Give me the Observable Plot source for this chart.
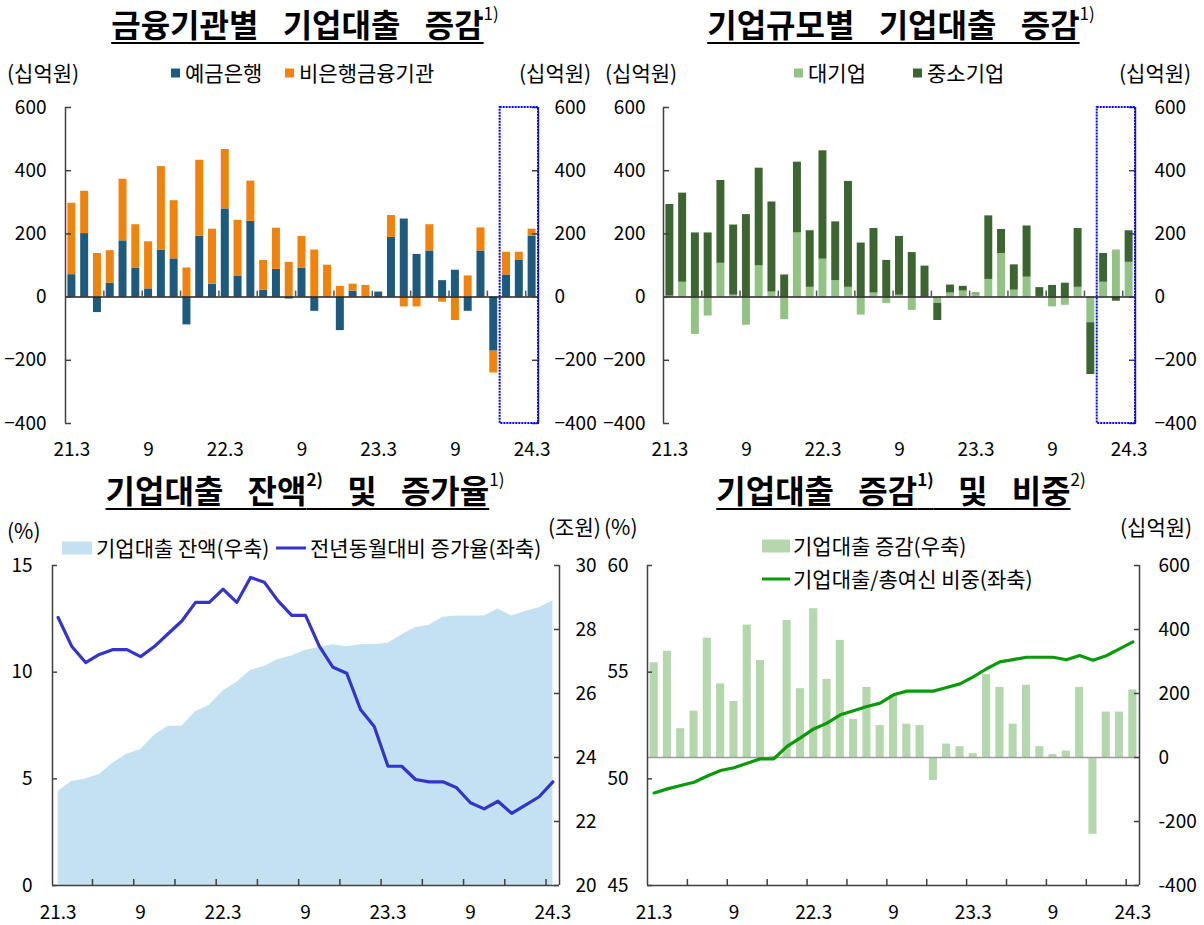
<!DOCTYPE html>
<html><head><meta charset="utf-8">
<script src="https://cdn.jsdelivr.net/npm/d3@7"></script>
<script src="https://cdn.jsdelivr.net/npm/@observablehq/plot@0.6"></script>
<style>
body{margin:0;background:#fff;font-family:"Noto Sans CJK KR","Noto Sans",sans-serif;color:#000;}
#root{position:relative;width:1204px;height:925px;overflow:hidden;background:#fff;}
.abs{position:absolute;white-space:nowrap;line-height:1;}
.title{font-size:32px;font-weight:bold;transform:translate(-50%,-50%);}
.title .main{text-decoration:underline;text-decoration-thickness:2px;text-underline-offset:5px;word-spacing:17px;}
.title sup{font-size:17px;vertical-align:top;position:relative;top:-3px;line-height:1;}
.title sup.n{font-weight:normal;}
.lbl{font-size:21px;transform:translateY(-50%);}
.sw{display:inline-block;vertical-align:middle;margin-right:5px;position:relative;top:-2px;}
svg{position:absolute;}
</style></head><body><div id="root"></div>
<script>
// ---------- DATA ----------
const months = ["21.3","21.4","21.5","21.6","21.7","21.8","21.9","21.10","21.11","21.12",
  "22.1","22.2","22.3","22.4","22.5","22.6","22.7","22.8","22.9","22.10","22.11","22.12",
  "23.1","23.2","23.3","23.4","23.5","23.6","23.7","23.8","23.9","23.10","23.11","23.12",
  "24.1","24.2","24.3"];
// 금융기관별 (십억원)
const bank    = [71,201,-49,44,178,92,26,149,121,-88,193,41,279,67,240,22,88,-6,92,-45,0,-106,19,0,16,189,247,135,146,52,85,-45,146,-171,70,116,193];
const nonbank = [226,134,138,103,195,137,149,264,184,92,240,174,188,176,127,94,130,110,100,149,101,34,22,37,-2,69,-31,-31,83,-16,-74,67,73,-69,72,26,22];
// 기업규모별 (십억원)
const large = [3,47,-118,-60,107,6,-89,99,16,-71,203,31,120,52,31,-57,13,-20,6,-42,0,-20,13,19,10,56,138,22,63,2,-31,-26,31,-81,47,149,110];
const sme   = [290,282,203,203,262,222,261,309,285,70,224,179,343,186,335,171,204,116,186,141,98,-54,25,15,3,201,76,80,162,28,37,44,186,-164,91,-13,100];
// 기업대출 잔액 (조원, 우축) 및 증가율 (%, 좌축)
const balance = [22.94,23.25,23.33,23.48,23.83,24.1,24.25,24.69,24.98,24.98,25.43,25.63,26.08,26.35,26.72,26.84,27.06,27.17,27.35,27.44,27.52,27.46,27.52,27.53,27.57,27.83,28.06,28.13,28.38,28.42,28.42,28.42,28.64,28.42,28.56,28.68,28.9];
const growth  = [12.56,11.2,10.45,10.83,11.06,11.06,10.73,11.2,11.8,12.4,13.27,13.27,13.89,13.27,14.44,14.22,13.34,12.66,12.66,11.22,10.23,9.95,8.25,7.45,5.59,5.59,4.97,4.86,4.86,4.58,3.88,3.59,3.95,3.38,3.77,4.16,4.86];
// 기업대출 증감 (십억원, 우축) 및 기업대출/총여신 비중 (%, 좌축)
const corpChange = [296,332,90,145,373,230,175,414,303,4,428,215,465,244,366,119,219,100,194,104,100,-72,42,34,12,259,219,104,226,34,9,20,219,-240,142,142,211];
const share = [49.34,49.53,49.69,49.84,50.13,50.39,50.52,50.73,50.94,50.94,51.52,51.92,52.34,52.61,53.0,53.19,53.39,53.55,53.94,54.11,54.11,54.11,54.28,54.45,54.78,55.16,55.48,55.59,55.70,55.70,55.70,55.58,55.78,55.56,55.77,56.09,56.42];
// tick labels
const labelMonths = ["21.3","21.9","22.3","22.9","23.3","23.9","24.3"];
const labelText   = ["21.3","9","22.3","9","23.3","9","24.3"];
const barTicks = [-400,-200,0,200,400,600];
const p3LeftTicks = [0,5,10,15];
const p3RightTicks = [20,22,24,26,28,30];
const p4LeftTicks = [45,50,55,60];
const p4RightTicks = [-400,-200,0,200,400,600];
const highlightMonths = ["24.1","24.2","24.3"];

// ---------- HELPERS ----------
const FONT = '"Noto Sans CJK KR","Noto Sans",sans-serif';
const root = document.getElementById("root");
const AX = "#404040";
const labelIdx = labelMonths.map(m => months.indexOf(m));
const tickPos = months.map((m,i)=>[m,i]).filter(([m,i]) => i>0 && [3,6,9,12].includes(+m.split(".")[1])).map(([m,i]) => i-0.5);
const fmtIdx = i => labelText[labelIdx.indexOf(i)];

function addHTML(x, y, content, cls, extra) {
  const d = document.createElement("div");
  d.className = "abs " + cls;
  d.style.left = x + "px"; d.style.top = y + "px";
  d.innerHTML = content;
  if (extra) Object.assign(d.style, extra);
  root.appendChild(d);
  return d;
}
function placeSVG(svg, left, top) {
  svg.style.left = left + "px"; svg.style.top = top + "px";
  root.appendChild(svg);
}
const style = {fontFamily: FONT, fontSize: "19px", color: "#000", background: "transparent", overflow: "visible"};

function stackedPanel({s1, s2, names, colors, W, H, ml, mr, mt, mb, padL, padR}) {
  const data = [];
  months.forEach((m, i) => {
    data.push({i, m, s: names[0], v: s1[i]});
    data.push({i, m, s: names[1], v: s2[i]});
  });
  const yDom = [-400, 600];
  const xDom = [-0.5, months.length - 0.5];
  const tlY = 6 * (yDom[1]-yDom[0]) / (H - mt - mb);
  const tlX = 6 * (xDom[1]-xDom[0]) / (W - ml - mr);
  const hi = [{x1: months.indexOf(highlightMonths[0]) - 0.5, x2: months.indexOf(highlightMonths[highlightMonths.length-1]) + 0.5, y1: yDom[0], y2: yDom[1]}];
  return Plot.plot({
    width: W, height: H, marginLeft: ml, marginRight: mr, marginTop: mt, marginBottom: mb,
    style,
    x: {type: "linear", domain: xDom},
    y: {domain: yDom},
    color: {domain: names, range: colors},
    marks: [
      Plot.rectY(data, {x1: d => d.i - 0.5, x2: d => d.i + 0.5, y: "v", fill: "s", insetLeft: 2.4, insetRight: 2.4}),
      Plot.ruleY([0], {stroke: "#222", strokeWidth: 1.5}),
      Plot.ruleX(xDom, {stroke: AX, strokeWidth: 1.5}),
      Plot.ruleY(barTicks, {x1: xDom[0], x2: xDom[0] + tlX, stroke: AX, strokeWidth: 1.5}),
      Plot.ruleY(barTicks, {x1: xDom[1] - tlX, x2: xDom[1], stroke: AX, strokeWidth: 1.5}),
      Plot.ruleX(tickPos, {y1: 0, y2: tlY, stroke: "#555", strokeWidth: 1.5}),
      Plot.axisY(barTicks, {anchor: "left", tickSize: 0, tickPadding: padL, label: null}),
      Plot.axisY(barTicks, {anchor: "right", tickSize: 0, tickPadding: padR, label: null}),
      Plot.axisX(labelIdx, {anchor: "bottom", tickSize: 0, tickPadding: 19, tickFormat: fmtIdx, label: null}),
      Plot.rect(hi, {x1: "x1", x2: "x2", y1: "y1", y2: "y2", fill: "none", stroke: "#0000ff", strokeWidth: 2, strokeDasharray: "2,1"})
    ]
  });
}

// ---------- PANEL 1 ----------
placeSVG(stackedPanel({s1: bank, s2: nonbank, names: ["예금은행","비은행금융기관"], colors: ["#1e5a7e","#f0820e"],
  W: 600, H: 375, ml: 65, mr: 62, mt: 12, mb: 47, padL: 19, padR: 16}), 0, 95);
// ---------- PANEL 2 ----------
placeSVG(stackedPanel({s1: large, s2: sme, names: ["대기업","중소기업"], colors: ["#92c384","#3d6531"],
  W: 604, H: 375, ml: 63, mr: 69, mt: 12, mb: 47, padL: 18, padR: 19}), 600, 95);

// ---------- PANEL 3 ----------
{
  const W = 600, H = 370, ml = 52, mr = 41, mt = 10, mb = 40;
  const yDom = [0, 15];
  const xDom = [-0.41, 36.48];
  const toLeft = v => (v - 20) * 1.5;          // 조원 -> % axis units
  const fromLeft = d => Math.round(d / 1.5 + 20);
  const data = months.map((m, i) => ({i, m, bal: balance[i], g: growth[i]}));
  const tlY = 6 * (yDom[1]-yDom[0]) / (H - mt - mb);
  const tlX = 5 * (xDom[1]-xDom[0]) / (W - ml - mr);
  const rightT = p3RightTicks.map(toLeft);
  placeSVG(Plot.plot({
    width: W, height: H, marginLeft: ml, marginRight: mr, marginTop: mt, marginBottom: mb,
    style, x: {type: "linear", domain: xDom}, y: {domain: yDom},
    marks: [
      Plot.areaY(data, {x: "i", y1: 0, y2: d => toLeft(d.bal), fill: "#c4e1f1"}),
      Plot.lineY(data, {x: "i", y: "g", stroke: "#3434c8", strokeWidth: 3.2}),
      Plot.ruleX(xDom, {stroke: AX, strokeWidth: 1.5}),
      Plot.ruleY([yDom[0]], {stroke: AX, strokeWidth: 1.5}),
      Plot.ruleY(p3LeftTicks, {x1: xDom[0], x2: xDom[0] + tlX, stroke: AX, strokeWidth: 1.5}),
      Plot.ruleY(rightT, {x1: xDom[1] - tlX, x2: xDom[1], stroke: AX, strokeWidth: 1.5}),
      Plot.ruleX(tickPos, {y1: yDom[0], y2: yDom[0] + tlY, stroke: AX, strokeWidth: 1.5}),
      Plot.axisY(p3LeftTicks, {anchor: "left", tickSize: 0, tickPadding: 20, label: null}),
      Plot.axisY(rightT, {anchor: "right", tickSize: 0, tickPadding: 16, tickFormat: fromLeft, label: null}),
      Plot.axisX(labelIdx, {anchor: "bottom", tickSize: 0, tickPadding: 20, tickFormat: fmtIdx, label: null})
    ]
  }), 0, 555);
}

// ---------- PANEL 4 ----------
{
  const W = 604, H = 370, ml = 47, mr = 65, mt = 10, mb = 40;
  const yDom = [45, 60];
  const xDom = [-0.5, months.length - 0.5];
  const toLeft = v => 45 + (v + 400) * 0.015;     // 십억원 -> % axis units
  const fromLeft = d => Math.round((d - 45) / 0.015 - 400);
  const data = months.map((m, i) => ({i, m, c: corpChange[i], s: share[i]}));
  const tlY = 6 * (yDom[1]-yDom[0]) / (H - mt - mb);
  const tlX = 5 * (xDom[1]-xDom[0]) / (W - ml - mr);
  const rightT = p4RightTicks.map(toLeft);
  placeSVG(Plot.plot({
    width: W, height: H, marginLeft: ml, marginRight: mr, marginTop: mt, marginBottom: mb,
    style, x: {type: "linear", domain: xDom}, y: {domain: yDom},
    marks: [
      Plot.rectY(data, {x1: d => d.i - 0.5, x2: d => d.i + 0.5, y1: toLeft(0), y2: d => toLeft(d.c), fill: "#b5d7ad", insetLeft: 2.6, insetRight: 2.6}),
      Plot.ruleY([toLeft(0)], {stroke: "#9a9a9a", strokeWidth: 1.5}),
      Plot.lineY(data, {x: "i", y: "s", stroke: "#0a990a", strokeWidth: 3.2}),
      Plot.ruleX(xDom, {stroke: AX, strokeWidth: 1.5}),
      Plot.ruleY([yDom[0]], {stroke: AX, strokeWidth: 1.5}),
      Plot.ruleY(p4LeftTicks, {x1: xDom[0], x2: xDom[0] + tlX, stroke: AX, strokeWidth: 1.5}),
      Plot.ruleY(rightT, {x1: xDom[1] - tlX, x2: xDom[1], stroke: AX, strokeWidth: 1.5}),
      Plot.ruleX(tickPos, {y1: yDom[0], y2: yDom[0] + tlY, stroke: AX, strokeWidth: 1.5}),
      Plot.axisY(p4LeftTicks, {anchor: "left", tickSize: 0, tickPadding: 19, label: null}),
      Plot.axisY(rightT, {anchor: "right", tickSize: 0, tickPadding: 19, tickFormat: fromLeft, label: null}),
      Plot.axisX(labelIdx, {anchor: "bottom", tickSize: 0, tickPadding: 20, tickFormat: fmtIdx, label: null})
    ]
  }), 600, 555);
}

// ---------- TEXT ----------
addHTML(305, 23, '<span class="main">금융기관별 기업대출 증감</span><sup class="n">1)</sup>', "title");
addHTML(901, 23, '<span class="main">기업규모별 기업대출 증감</span><sup class="n">1)</sup>', "title");
addHTML(305, 489, '<span class="main">기업대출 잔액<sup>2)</sup> 및 증가율</span><sup class="n">1)</sup>', "title");
addHTML(901, 489, '<span class="main">기업대출 증감<sup>1)</sup> 및 비중</span><sup class="n">2)</sup>', "title");

// panel 1 legend
addHTML(7, 72, "(십억원)", "lbl");
addHTML(519, 72, "(십억원)", "lbl");
addHTML(171, 72, '<span class="sw" style="width:9px;height:9px;background:#1e5a7e"></span>예금은행', "lbl");
addHTML(285, 72, '<span class="sw" style="width:9px;height:9px;background:#f0820e"></span>비은행금융기관', "lbl");
// panel 2 legend
addHTML(605, 72, "(십억원)", "lbl");
addHTML(1119, 72, "(십억원)", "lbl");
addHTML(794, 72, '<span class="sw" style="width:9px;height:9px;background:#92c384"></span>대기업', "lbl");
addHTML(913, 72, '<span class="sw" style="width:9px;height:9px;background:#3d6531"></span>중소기업', "lbl");
// panel 3 legend
addHTML(7, 530, "(%)", "lbl");
addHTML(548, 526, "(조원)", "lbl");
addHTML(62, 547, '<span class="sw" style="width:30px;height:13px;background:#c4e1f1;margin-right:4px"></span>기업대출 잔액(우축)', "lbl");
addHTML(276, 547, '<span class="sw" style="width:30px;height:3px;background:#3434c8;margin-right:4px"></span>전년동월대비 증가율(좌축)', "lbl");
// panel 4 legend
addHTML(604, 526, "(%)", "lbl");
addHTML(1120, 526, "(십억원)", "lbl");
addHTML(762, 545, '<span class="sw" style="width:28px;height:13px;background:#b5d7ad;margin-right:3px"></span>기업대출 증감(우축)', "lbl");
addHTML(762, 578, '<span class="sw" style="width:28px;height:3px;background:#0a990a;margin-right:3px"></span>기업대출/총여신 비중(좌축)', "lbl");
</script></body></html>
